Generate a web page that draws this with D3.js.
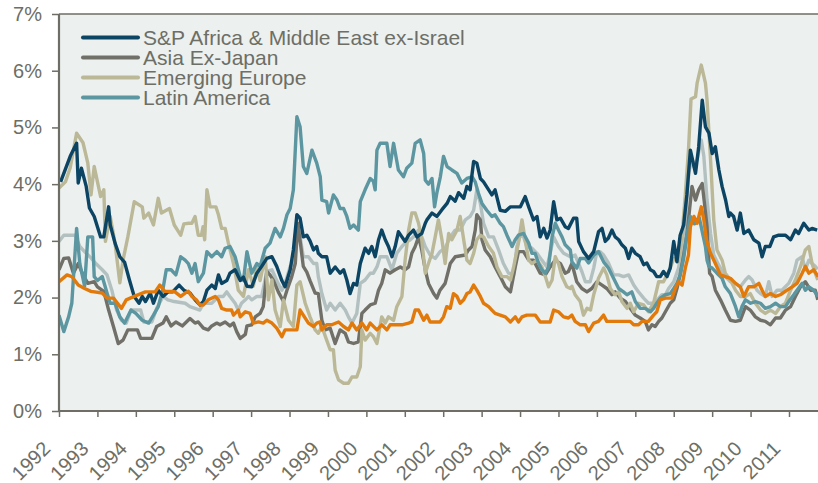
<!DOCTYPE html>
<html>
<head>
<meta charset="utf-8">
<script src="https://cdn.jsdelivr.net/npm/d3@7/dist/d3.min.js"></script>
<style>
body { margin: 0; background: #fff; }
svg text { font-family: 'Liberation Sans', Arial, sans-serif; fill: #6d6e65; }
</style>
</head>
<body>
<div id="chart-area"></div>
<script>
// month index from Jan 1992, value in %
var yearLabels = ['1992','1993','1994','1995','1996','1997','1998','1999','2000','2001','2002','2003','2004','2005','2006','2007','2008','2009','2010','2011'];
var pctTicks = [0, 1, 2, 3, 4, 5, 6, 7];
var legendNames = ['S&P Africa & Middle East ex-Israel', 'Asia Ex-Japan', 'Emerging Europe', 'Latin America'];

var africaME = [[0.5,4.04],[3.5,4.49],[5.5,4.72],[6,4.02],[7,4.28],[8.5,3.96],[9.5,3.58],[11,3.43],[13,3.07],[14,3.07],[15.5,3.6],[16,3.28],[17.5,2.96],[19,2.72],[20.5,2.62],[22,2.31],[23.5,2.02],[25,1.9],[26,2.02],[27,1.93],[28.5,2.08],[29.5,1.9],[31,2.13],[32.5,2.02],[34,2.1],[35.5,2.1],[37.5,2.22],[39,2.13],[40.9,2.08],[42.5,1.96],[44,1.87],[45.1,1.93],[46.2,2.13],[47.7,2.22],[48.8,2.16],[49.8,2.4],[50.8,2.25],[52.4,2.3],[53.4,2.43],[55,2.49],[56.6,2.3],[57.6,2.36],[58.7,2.2],[60.2,2.19],[61.8,2.43],[63.3,2.55],[64.9,2.69],[66.5,2.72],[68,2.55],[69.6,2.3],[70.6,2.19],[72.2,2.49],[73.2,2.84],[74.3,3.46],[75.3,3.4],[76.3,3.07],[77.4,3.1],[78.4,3.0],[79.5,2.84],[80.5,2.9],[81,2.78],[82.1,2.72],[83.6,2.72],[84.7,2.43],[86.25,2.54],[87.8,2.43],[88.9,2.49],[89.9,2.31],[90.9,2.07],[92,2.25],[93,2.22],[94.1,2.6],[95.6,2.87],[96.7,2.78],[97.7,2.9],[98.75,2.72],[99.8,3.02],[100.8,3.19],[101.9,3.02],[102.9,2.9],[104,2.72],[105,2.9],[106,3.16],[107.1,3.07],[108.1,2.99],[109.2,3.1],[110.7,3.19],[111.8,3.07],[113.3,3.13],[114.4,3.31],[114.9,3.37],[116.5,3.49],[118,3.43],[119.6,3.55],[121.2,3.66],[122.2,3.78],[123.75,3.7],[124.8,3.85],[126.4,3.75],[127.4,3.96],[128.4,3.9],[129.5,4.4],[130.5,4.37],[131.6,4.1],[132.6,4.04],[134.2,3.9],[135.2,3.81],[136.2,3.9],[137.8,3.54],[139.4,3.52],[141,3.6],[144.1,3.6],[145.6,3.78],[146.7,3.6],[148.2,3.37],[149.3,3.43],[150.3,3.07],[151.4,3.22],[152.4,3.05],[153.4,3.19],[154.5,3.69],[155.5,3.37],[156.6,3.4],[158.1,3.25],[159.1,3.22],[160.7,3.4],[161.7,3.4],[162.3,2.99],[163.8,2.81],[165.4,2.69],[167,2.81],[168.5,3.16],[169.6,3.22],[170.6,2.99],[171.6,3.05],[172.7,3.19],[173.7,3.07],[174.8,3.02],[175.8,2.93],[176.9,2.87],[177.9,2.69],[178.9,2.87],[180,2.78],[181.5,2.72],[182.6,2.58],[183.6,2.61],[184.7,2.49],[185.7,2.46],[186.7,2.37],[187.8,2.37],[188.8,2.46],[189.9,2.37],[190.9,2.52],[192,2.99],[193,2.63],[194,3.1],[195.1,3.28],[196.1,3.81],[197.2,4.6],[198.8,4.19],[199.8,4.66],[200.9,5.48],[201.9,5.01],[203,4.9],[204,4.54],[205,4.66],[206.1,4.25],[207.1,3.96],[208.2,3.72],[209.2,3.43],[209.7,3.49],[210.7,3.43],[211.8,3.19],[212.8,3.49],[213.9,3.13],[215.4,3.19],[217,3.02],[218.6,2.96],[219.6,2.72],[220.6,2.9],[222,2.9],[223.2,3.07],[224.8,3.1],[226.9,3.1],[228.5,3.02],[230,3.19],[231,3.13],[232.6,3.31],[234.2,3.19],[235.2,3.22],[236.8,3.19]];

var asiaExJapan = [[0,2.49],[1.5,2.69],[3,2.7],[4.5,2.43],[6,2.6],[7.5,2.4],[9,2.25],[11,2.28],[12,2.19],[14,2.11],[15.5,1.78],[17,1.49],[18.5,1.19],[20,1.25],[21.5,1.43],[24.5,1.43],[25.5,1.28],[29,1.28],[30.5,1.49],[32.5,1.55],[33.5,1.66],[35,1.5],[36.5,1.57],[38.5,1.5],[40.9,1.63],[42.5,1.55],[43.5,1.57],[45.1,1.46],[46.6,1.43],[47.7,1.5],[49.3,1.55],[50.3,1.52],[51.9,1.57],[53.4,1.5],[54.5,1.55],[55.5,1.4],[56.6,1.28],[58.2,1.35],[58.7,1.5],[60.2,1.52],[61.3,1.66],[62.8,1.72],[63.8,1.84],[64.9,2.46],[65.9,2.4],[67,2.3],[68.5,2.1],[70.1,1.93],[71.2,2.13],[72.7,2.37],[73.8,2.6],[74.6,3.31],[75.3,3.0],[76.3,2.55],[77.4,2.45],[78.4,2.3],[80,2.08],[81,2.07],[82.1,1.6],[83.1,1.43],[84.7,1.46],[86.25,1.19],[87.8,1.43],[89.4,1.37],[90.4,1.22],[92,1.19],[93.5,1.22],[94.6,1.72],[95.6,1.78],[97.2,1.87],[98.75,1.9],[99.8,2.13],[100.8,2.25],[101.9,2.49],[103.4,2.43],[105,2.49],[106.6,2.54],[108.1,2.49],[109.2,2.54],[110.2,2.78],[111.25,2.9],[112.3,3.07],[113.3,2.84],[114.4,2.49],[115.4,2.25],[117,2.07],[118,1.99],[119,2.13],[120.6,2.25],[122.2,2.6],[123.75,2.72],[126.9,2.75],[127.9,2.84],[129,2.9],[130,3.19],[130.5,3.46],[131.6,3.37],[132.1,3.02],[133.1,2.84],[134.7,2.72],[136.2,2.54],[137.8,2.37],[139.4,2.19],[141,2.1],[142.5,2.54],[143.5,2.81],[145.1,2.81],[146.7,2.66],[148.2,2.66],[150.3,2.43],[151.9,2.4],[153.4,2.54],[155,2.66],[156.6,2.6],[158.1,2.43],[159.1,2.46],[160.2,2.6],[161.7,2.28],[163.3,2.16],[164.9,2.1],[166.4,2.16],[168,2.28],[169.6,2.22],[171.1,2.16],[172.7,2.05],[173.7,2.1],[175.3,1.99],[176.9,1.93],[178.4,1.81],[180,1.69],[181.5,1.64],[183.1,1.58],[184.1,1.43],[185.2,1.52],[186.2,1.49],[187.3,1.58],[188.3,1.64],[189.4,1.75],[190.9,1.9],[192,1.96],[193,2.16],[194,2.4],[195.1,2.75],[196.1,3.1],[197.7,3.96],[198.8,3.72],[199.8,3.9],[200.9,4.01],[201.6,3.66],[202.4,3.25],[203.2,2.43],[204,2.37],[205,2.13],[206.6,1.96],[208.1,1.78],[209.7,1.6],[211.3,1.58],[212.8,1.6],[214.4,1.84],[215.9,1.78],[217.5,1.66],[219.1,1.6],[220.6,1.58],[222.2,1.52],[223.8,1.64],[225.3,1.64],[226.9,1.78],[228.5,1.84],[230,2.02],[231.6,2.19],[233.1,2.28],[234.7,2.13],[236.2,2.13],[237,1.96]];

var emergingEurope = [[0,3.93],[2,4.04],[3.5,4.29],[5.5,4.9],[7.5,4.73],[9,4.37],[10,3.81],[11,4.31],[13,3.78],[14,3.9],[14.5,2.99],[16,3.43],[17.5,2.96],[19,2.26],[20,2.66],[21.5,3.07],[23.5,3.69],[26,3.6],[26.5,3.4],[28,3.49],[29.5,3.28],[31,3.75],[32,3.49],[34.5,3.57],[36,3.28],[38,3.1],[39,3.3],[40.5,3.31],[41.5,3.31],[42.5,3.43],[43.5,3.1],[44.5,3.1],[45,3.25],[45.5,3.02],[46.2,3.9],[47.2,3.6],[49,3.6],[49.8,3.46],[50.8,3.22],[51.9,3.22],[52.9,2.96],[54.5,2.6],[56,2.13],[57.6,2.02],[59.2,2.49],[60.7,2.2],[61.8,2.55],[62.8,2.3],[64.4,2.72],[65.4,1.96],[66.5,2.31],[67.5,1.78],[69.1,1.49],[70.1,1.96],[71.7,1.6],[73.2,1.49],[74.3,2.22],[75.3,2.28],[76.9,1.9],[78.4,1.66],[80,1.43],[81,1.37],[82.1,1.49],[83.6,1.25],[84.7,1.08],[85.7,1.08],[86.25,0.72],[87.3,0.55],[88.9,0.49],[90.4,0.49],[91.5,0.6],[93,0.6],[94.1,0.78],[94.6,1.43],[95.6,1.25],[97.2,1.37],[98.2,1.31],[99.3,1.19],[100.8,1.66],[101.9,1.55],[102.9,1.66],[104.5,1.6],[105.5,1.84],[107.1,2.02],[108.1,2.66],[109.2,3.19],[110.2,3.49],[111.25,3.49],[112.3,3.31],[113.3,3.02],[114.4,2.43],[115.4,2.6],[116.5,2.78],[117.5,3.07],[118.5,3.37],[119.6,3.02],[120.6,2.6],[121.7,3.13],[122.7,3.02],[124.3,3.19],[125.3,3.43],[126.4,3.02],[127.4,2.66],[128.4,2.6],[129.5,2.78],[130.5,3.02],[131.6,3.1],[132.6,3.07],[134.2,2.9],[135.7,2.78],[136.8,2.54],[138.3,2.37],[139.9,2.37],[141,2.31],[142,2.54],[143.5,2.96],[144.6,3.37],[145.6,3.02],[146.7,2.66],[147.7,2.6],[149.3,2.66],[150.8,2.54],[151.9,2.37],[152.9,2.19],[154,2.31],[155,2.72],[156,2.6],[157.1,2.37],[158.6,2.19],[159.7,2.16],[160.2,2.2],[161.2,2.05],[162.8,1.93],[163.8,1.69],[164.9,1.81],[166,1.78],[167,2.05],[168.5,2.34],[170.1,2.52],[171.1,2.4],[172.2,2.16],[173.7,2.05],[174.8,2.1],[175.8,1.93],[177.4,1.81],[178.4,1.9],[179.5,1.75],[181,1.9],[182.6,1.87],[184.1,1.75],[185.7,1.9],[187.3,2.28],[188.8,2.28],[189.9,2.4],[190.9,2.52],[192,2.69],[193.5,2.63],[194.6,3.1],[195.6,3.8],[196.6,4.6],[197.4,5.5],[198.8,5.54],[199.3,5.78],[200.6,6.1],[201.9,5.78],[202.4,5.48],[203.5,4.43],[204.5,3.37],[205.5,2.84],[207.1,2.66],[208.1,2.43],[209.7,2.31],[211.3,2.13],[212.8,2.02],[214.4,2.02],[215.9,2.07],[217.5,1.9],[219.1,1.78],[220.6,1.72],[222.2,1.78],[223.8,1.72],[225.3,1.84],[226.9,1.9],[228.5,2.13],[230,2.31],[231.6,2.55],[233.1,2.84],[234.2,2.9],[235.2,2.6],[236.2,2.43],[237,2.31]];

var latinAmerica = [[0,1.69],[1.5,1.4],[3,1.66],[4,1.9],[5.5,3.22],[6.5,2.6],[8,2.2],[9,3.07],[10.5,3.07],[11,2.37],[12,2.3],[13.5,2.37],[15,2.08],[16,1.9],[17.5,1.9],[19,1.66],[20.5,1.55],[22.5,1.78],[24,1.72],[26,1.6],[28,1.55],[29.5,1.69],[31,1.84],[32.5,2.16],[33.5,2.49],[35,2.49],[36.5,2.4],[38,2.72],[39.4,2.66],[40.4,2.6],[41.5,2.43],[42.5,2.6],[43.5,2.28],[45.1,2.43],[46.2,2.81],[47.7,2.72],[49.3,2.81],[50.8,2.72],[51.9,2.87],[53.4,2.9],[55,2.72],[56.6,2.37],[57.6,2.3],[58.7,2.81],[60.2,2.43],[61.8,2.6],[62.8,2.55],[64.4,2.87],[65.9,2.96],[67.5,3.22],[69.1,3.07],[70.1,3.22],[71.2,3.46],[72.2,3.57],[73.2,3.9],[74.3,5.19],[75.3,5.01],[76.3,4.31],[77.4,4.19],[79,4.6],[80.5,4.37],[81.6,4.13],[82.1,3.72],[83.6,3.69],[84.2,3.49],[85.7,3.81],[86.8,3.72],[87.8,3.57],[88.9,3.57],[89.9,3.43],[90.9,3.22],[92,3.28],[93.5,3.19],[94.1,3.69],[95.6,3.9],[97.2,4.1],[98.2,4.05],[98.75,3.9],[99.3,4.6],[100.3,4.72],[102.4,4.72],[103.4,4.31],[104.5,4.72],[106,4.25],[107.6,4.13],[108.6,4.28],[110.2,4.37],[111.25,4.72],[112.8,4.78],[113.9,4.54],[114.4,4.07],[115.4,4.0],[116.5,4.1],[117.3,3.6],[118,3.84],[119.1,4.13],[120.1,4.49],[121.2,4.31],[122.7,4.25],[124.3,4.19],[125.8,4.02],[127.4,4.1],[129,4.13],[130,4.04],[131,3.84],[132.1,3.66],[133.6,3.54],[135.2,3.43],[136.2,3.46],[137.8,3.31],[138.8,3.25],[139.9,3.1],[141.5,2.9],[142.5,3.02],[143.5,3.1],[145.1,3.13],[146.7,2.96],[147.7,2.78],[148.7,2.78],[149.8,2.6],[150.8,2.49],[151.9,2.43],[152.9,2.54],[154,3.07],[155,3.31],[156,3.19],[157.1,3.07],[158.1,2.93],[159.7,2.84],[160.2,2.63],[161.7,2.52],[162.8,2.69],[164.4,2.69],[165.4,2.61],[167,2.75],[168.5,2.81],[170.1,2.63],[171.6,2.52],[173.2,2.34],[174.8,2.16],[176.3,2.1],[177.4,2.05],[178.9,2.1],[180,1.93],[181.5,1.81],[183.1,1.81],[184.7,1.75],[185.7,1.81],[186.7,1.9],[187.8,1.99],[189.4,2.05],[190.9,2.07],[192,2.16],[193,2.25],[194,2.4],[195.1,2.69],[196.1,3.1],[197.2,3.43],[198.5,3.3],[200,3.4],[201.9,2.9],[202.4,2.66],[203,2.55],[204,2.52],[205.5,2.43],[207.1,2.34],[208.1,2.19],[209.7,2.07],[211.3,1.84],[212.3,1.66],[213.3,1.84],[214.4,1.96],[216,1.9],[217.5,1.93],[219.1,1.9],[220.6,1.81],[222.2,1.84],[223.8,1.9],[225.3,1.84],[226.9,1.84],[227.9,1.93],[229.5,2.05],[230.5,2.13],[232.1,2.25],[233.1,2.13],[234.2,2.19],[235.7,2.13],[237.1,2.02]];

// two series without legend entries
var greySeries = [[0,2.99],[1.5,3.1],[5,3.1],[6.5,2.9],[8.5,2.78],[10,2.7],[11.5,2.6],[13.5,2.49],[15,2.4],[16.5,2.13],[18,1.78],[19.5,1.6],[21,1.55],[22.5,1.78],[25.5,1.78],[26.5,1.57],[29,1.57],[30.5,1.81],[32.5,2.02],[34,1.96],[36,1.93],[39.4,1.9],[40.9,1.84],[44,1.78],[45.1,1.9],[47.7,1.9],[48.8,1.96],[49.8,2.02],[51.3,2.02],[52.4,2.1],[53.4,2.02],[55,1.9],[56,1.78],[57,1.9],[58.2,1.96],[59.2,2.02],[60.2,1.96],[61.8,2.02],[63.3,2.02],[64.9,2.46],[66.5,2.49],[68,2.3],[69.6,2.13],[70.6,2.25],[72.2,2.55],[73.2,2.6],[74.3,3.28],[75.3,3.07],[76.3,2.72],[77.9,2.72],[79.5,2.6],[80.5,2.6],[81,2.37],[82.1,2.07],[83.6,1.78],[84.7,1.9],[86.25,1.78],[87.8,1.9],[89.4,1.78],[90.4,1.66],[91.5,1.55],[93,1.72],[94.1,2.25],[95.6,2.31],[97.2,2.43],[98.2,2.43],[99.3,2.54],[100.3,2.72],[102.4,2.72],[104,2.49],[105.5,2.78],[107.1,2.9],[108.1,2.96],[109.7,3.02],[110.7,3.07],[112.3,3.19],[113.3,3.07],[114.4,2.9],[115.9,2.75],[117.5,2.69],[119,2.81],[120.6,2.87],[122.2,3.07],[123.75,3.19],[125.3,3.19],[126.9,3.37],[128.4,3.43],[129.5,3.54],[130.5,3.9],[131.6,3.66],[132.6,3.31],[134.2,3.07],[135.7,3.07],[137.3,2.84],[138.8,2.6],[140.4,2.43],[142,2.4],[143,2.9],[144.1,3.1],[145.1,3.07],[146.1,2.9],[147.7,2.87],[149.3,2.78],[150.8,2.66],[152.4,2.54],[153.4,2.78],[154.5,3.07],[156,2.9],[157.6,2.78],[159.7,2.72],[161.2,2.75],[163.3,2.46],[164.4,2.28],[165.9,2.28],[167,2.52],[168,2.81],[169,2.81],[170.1,2.75],[171.6,2.61],[173.2,2.4],[174.8,2.4],[176.3,2.37],[177.9,2.4],[179.5,2.22],[181,2.1],[182.6,1.99],[184.1,1.9],[185.7,1.9],[187.3,1.99],[188.3,2.05],[189.4,2.05],[190.4,2.16],[192,2.28],[193.5,2.52],[194.6,2.87],[195.6,3.34],[196.7,4.2],[197.7,4.45],[198.3,4.31],[199.3,4.43],[200.6,4.78],[201.4,4.49],[202.4,3.72],[203.5,3.13],[204.5,2.75],[206,2.58],[208.1,2.37],[209.7,2.28],[211.3,2.25],[212.8,2.19],[214.4,2.31],[215.4,2.37],[216.5,2.31],[218,2.13],[219.1,2.07],[220.6,2.02],[221.7,2.28],[222.7,2.02],[224.3,2.13],[225.8,2.13],[227.9,2.25],[229.5,2.43],[230.5,2.66],[232.1,2.72],[233.1,2.49],[234.2,2.66],[235.2,2.6],[236.2,2.55],[237,2.5]];

var orangeSeries = [[0,2.28],[2.5,2.4],[4,2.37],[6,2.22],[8,2.16],[10,2.11],[13.5,2.08],[15,1.99],[17,1.99],[19.5,1.81],[21,1.96],[23.5,2.02],[27,2.1],[30,2.1],[31.5,2.22],[33,2.11],[36,2.11],[38,2.02],[39.4,2.08],[40.4,2.11],[41.5,2.02],[42.9,1.96],[44,1.87],[45.1,1.87],[46.6,1.96],[48.8,2.02],[49.8,1.96],[50.8,1.81],[52.4,1.78],[53.9,1.78],[54.5,1.69],[56,1.78],[56.6,1.66],[58.2,1.75],[59.7,1.72],[60.7,1.55],[62.3,1.57],[63.8,1.55],[64.9,1.6],[66.5,1.55],[68,1.46],[69.6,1.31],[70.6,1.43],[72.7,1.43],[74.3,1.43],[75.3,1.78],[76.3,1.69],[77.9,1.55],[79.5,1.49],[80.5,1.55],[81.5,1.57],[82.1,1.43],[83.6,1.52],[85.2,1.52],[87.3,1.57],[88.9,1.49],[90.4,1.43],[91.5,1.55],[93,1.43],[94.6,1.55],[96.1,1.43],[97.2,1.55],[99.3,1.43],[100.8,1.52],[102.4,1.43],[103.4,1.52],[105,1.52],[107.1,1.52],[109.2,1.55],[110.2,1.57],[111.25,1.78],[112.3,1.78],[113.9,1.6],[114.9,1.69],[115.9,1.57],[119,1.57],[120.1,1.66],[121.1,1.84],[122.2,1.81],[123.2,2.07],[124.3,2.02],[125.3,1.9],[126.4,1.96],[127.4,2.07],[128.4,2.1],[129.5,2.22],[130.5,2.13],[131.6,2.02],[132.6,1.9],[134.2,1.84],[135.2,1.78],[136.2,1.72],[137.8,1.69],[139.4,1.66],[141,1.57],[142.5,1.66],[143.5,1.57],[144.6,1.66],[146.1,1.69],[148.8,1.69],[150.3,1.57],[153.4,1.57],[154.5,1.78],[156,1.75],[157.6,1.66],[159.1,1.64],[160.2,1.69],[161.2,1.58],[162.8,1.52],[164.4,1.52],[165.4,1.4],[167,1.55],[168.5,1.58],[170.1,1.69],[171.1,1.58],[174.8,1.58],[178.4,1.58],[179.5,1.52],[181,1.52],[182.1,1.58],[184.1,1.58],[185.7,1.69],[186.7,1.75],[187.8,1.96],[189.4,1.99],[191.4,1.99],[192.5,2.16],[193.5,2.28],[194.6,2.22],[195.6,2.52],[196.6,2.75],[197.2,3.25],[198.3,3.43],[199.3,3.31],[200.6,3.6],[201.4,3.37],[202.2,3.02],[203.5,2.78],[205,2.6],[206.6,2.4],[208.1,2.37],[209.7,2.34],[211.3,2.25],[212.8,2.19],[213.9,2.02],[215.4,2.19],[217,2.19],[218.6,2.25],[219.6,2.13],[220.6,2.02],[222.2,2.07],[223.8,2.02],[225.3,2.05],[227.4,2.13],[229,2.19],[230.5,2.25],[232.1,2.43],[233.1,2.55],[234.2,2.43],[235.7,2.49],[237.1,2.37]];

var W = 818, H = 483;
var plotLeft = 59, plotRight = 818, plotTop = 14, plotBottom = 411;
var axisColor = '#6e6e66';

// draw order: back to front
var series = [
    { data: greySeries, color: '#b3c0c0' },
    { data: asiaExJapan, color: '#707068' },
    { data: emergingEurope, color: '#bab896' },
    { data: latinAmerica, color: '#5b96a1' },
    { data: africaME, color: '#0c4463' },
    { data: orangeSeries, color: '#e27a0b' }
];
var legendColors = ['#0c4463', '#707068', '#bab896', '#5b96a1'];

var svg = d3.select('#chart-area')
    .append('svg')
        .attr('width', W)
        .attr('height', H);

// scales: x in months from Jan 1992
var xScale = d3.scaleLinear().domain([0, 228]).range([plotLeft, 789]);
var yScale = d3.scaleLinear().domain([0, 7]).range([plotBottom, plotTop]);

svg.append('rect')
    .attr('x', plotLeft).attr('y', plotTop)
    .attr('width', plotRight - plotLeft).attr('height', plotBottom - plotTop)
    .attr('fill', '#ecf0ef');

// top border
svg.append('line')
    .attr('x1', plotLeft).attr('x2', plotRight)
    .attr('y1', plotTop).attr('y2', plotTop)
    .attr('stroke', axisColor).attr('stroke-width', 1.6);

svg.append('clipPath').attr('id', 'plot-clip')
    .append('rect')
    .attr('x', plotLeft).attr('y', plotTop)
    .attr('width', plotRight - plotLeft).attr('height', plotBottom - plotTop);

var line = d3.line()
    .x(function(d) { return xScale(d[0]); })
    .y(function(d) { return yScale(d[1]); });

var lines = svg.append('g').attr('clip-path', 'url(#plot-clip)');
series.forEach(function(s) {
    lines.append('path')
        .attr('d', line(s.data))
        .attr('fill', 'none')
        .attr('stroke', s.color)
        .attr('stroke-width', 3.4)
        .attr('stroke-linejoin', 'round');
});

// axes
var yAxis = d3.axisLeft(yScale).tickValues(pctTicks).tickSize(7).tickPadding(10)
    .tickFormat(function(d) { return d + '%'; });
var yAxisGroup = svg.append('g').attr('transform', 'translate(' + plotLeft + ',0)').call(yAxis);

var xAxis = d3.axisBottom(xScale).tickValues(d3.range(0, 229, 12)).tickSize(6)
    .tickFormat(function(d, i) { return yearLabels[i]; });
var xAxisGroup = svg.append('g').attr('transform', 'translate(0,' + plotBottom + ')').call(xAxis);

[yAxisGroup, xAxisGroup].forEach(function(g) {
    g.select('.domain').attr('stroke', axisColor).attr('stroke-width', 2.2);
    g.selectAll('.tick line').attr('stroke', axisColor).attr('stroke-width', 1.5);
    g.selectAll('.tick text').attr('fill', '#6d6e65').style('font-size', '20px');
});
yAxisGroup.select('.domain').attr('d', 'M0,' + plotTop + 'V' + plotBottom);
xAxisGroup.select('.domain').attr('d', 'M' + plotLeft + ',0H' + plotRight);

xAxisGroup.selectAll('.tick text')
    .style('font-size', '20px')
    .attr('text-anchor', 'end')
    .attr('x', 0).attr('y', 0).attr('dy', 0)
    .attr('transform', 'translate(-8,39) rotate(-45)');

// legend
var legend = svg.append('g');
legendNames.forEach(function(name, i) {
    var row = legend.append('g')
        .attr('transform', 'translate(83,' + (37.5 + i * 20) + ')');
    row.append('line')
        .attr('x1', 0).attr('x2', 55)
        .attr('stroke', legendColors[i])
        .attr('stroke-width', 4)
        .attr('stroke-linecap', 'round');
    row.append('text')
        .attr('x', 60)
        .attr('dy', '0.36em')
        .style('font-size', '21px')
        .text(name);
});
</script>
</body>
</html>
